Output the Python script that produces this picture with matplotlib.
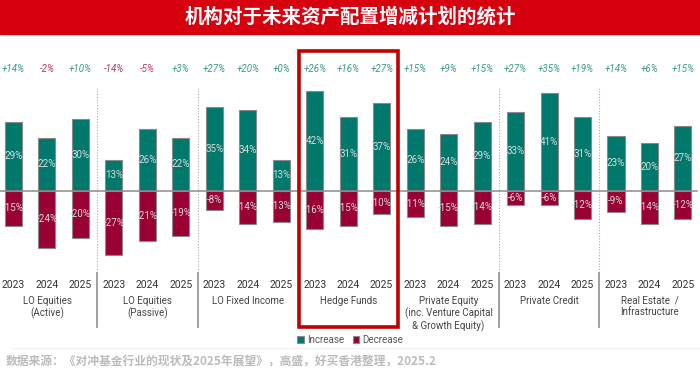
import matplotlib
matplotlib.use("Agg")
import numpy as np
from matplotlib import pyplot as plt
from matplotlib.patches import Rectangle

plt.rcParams['font.family'] = ['Roboto', 'Noto Sans CJK SC', 'DejaVu Sans']

# dati
categorie = ["LO Equities\n(Active)", "LO Equities\n(Passive)", "LO Fixed Income", "Hedge Funds",
             "Private Equity\n(inc. Venture Capital\n& Growth Equity)", "Private Credit",
             "Real Estate  /\nInfrastructure"]
anni = ["2023", "2024", "2025"]
aumento = [29, 22, 30, 13, 26, 22, 35, 34, 13, 42, 31, 37, 26, 24, 29, 33, 41, 31, 23, 20, 27]
diminuzione = [-15, -24, -20, -27, -21, -19, -8, -14, -13, -16, -15, -10, -11, -15, -14, -6, -6, -12, -9, -14, -12]
netto = [14, -2, 10, -14, -5, 3, 27, 20, 0, 26, 16, 27, 15, 9, 15, 27, 35, 19, 14, 6, 15]

verde = "#00786C"
rosso = "#990033"
H = 381.0

def fy(py):
    # pixel verticale -> frazione della figura
    return 1 - py / H

fig = plt.figure(figsize=(7, 3.81), dpi=100)
ax = fig.add_axes([0, 0, 1, 1])
ax.set_xlim(-0.403, 20.51)
ax.set_ylim(-80.0, 80.1)
ax.axis("off")

x = np.arange(len(aumento))
b1 = ax.bar(x, aumento, width=0.51, color=verde, edgecolor="#8a8a8a", linewidth=0.8, label="Increase", zorder=2)
b2 = ax.bar(x, diminuzione, width=0.51, color=rosso, edgecolor="#8a8a8a", linewidth=0.8, label="Decrease", zorder=2)
ax.axhline(0, xmin=0, xmax=0.995, color="#8c8c8c", lw=1.1, zorder=3)

for i in range(len(x)):
    ax.text(x[i], aumento[i] / 2, f"{aumento[i]}%", ha="center", va="center", color="#dcdcdc", fontsize=7, zorder=4)
    ax.text(x[i], diminuzione[i] / 2, f"{diminuzione[i]}%", ha="center", va="center", color="#dcdcdc", fontsize=7, zorder=4)
    col = "#3a9a8c" if netto[i] >= 0 else "#b8386a"
    lab = f"+{netto[i]}%" if netto[i] >= 0 else f"{netto[i]}%"
    ax.text(x[i], (190.7 - 69) / 2.38, lab, ha="center", va="center", color=col, fontsize=7, style="italic")
    ax.text(x[i], (190.7 - 285) / 2.38, anni[i % 3], ha="center", va="center", color="#333333", fontsize=7.5)

# etichette delle categorie
for g, nome in enumerate(categorie):
    ax.text(3 * g + 1, (190.7 - 296) / 2.38, nome, ha="center", va="top", color="#444444",
            fontsize=7, linespacing=1.15)

# separatori tra i gruppi
for s in [2.5, 5.5, 14.5, 17.5]:
    ax.plot([s, s], [(190.7 - 88) / 2.38, (190.7 - 273) / 2.38], color="#aaaaaa", lw=0.8, ls=(0, (1, 1.5)), zorder=1)
    ax.plot([s, s], [(190.7 - 273) / 2.38, (190.7 - 327) / 2.38], color="#999999", lw=1.3, zorder=1)

# riquadro Hedge Funds
ax.add_patch(Rectangle((8.52, (190.7 - 327) / 2.38), 2.98, (327 - 51) / 2.38, fill=False,
                       edgecolor="#C00000", lw=2.6, zorder=5))

# banner del titolo
fig.patches.append(Rectangle((0, fy(34)), 1, 34 / H, transform=fig.transFigure, color="#D7000F", zorder=0))
fig.text(0.5, fy(17), "机构对于未来资产配置增减计划的统计", ha="center", va="center", color="white",
         fontsize=14, fontweight="bold", family=["Noto Sans CJK SC", "DejaVu Sans"])

ax.legend(handles=[b1, b2], loc="center", bbox_to_anchor=(0.5, fy(340)), bbox_transform=fig.transFigure,
          ncol=2, frameon=False, fontsize=7, handlelength=0.7, handleheight=0.7, handletextpad=0.3,
          columnspacing=0.9, labelcolor="#555555")

ax.plot([0, 20.5], [(190.7 - 348) / 2.38] * 2, color="#f0f0f0", lw=0.8)

fig.text(0.008, fy(362), "数据来源：《对冲基金行业的现状及2025年展望》，高盛，好买香港整理，2025.2",
         ha="left", va="center", color="#bbbbbb", fontsize=8.5, fontweight="bold",
         family=["Noto Sans CJK SC", "DejaVu Sans"])

fig.savefig("out.png", dpi=100)
